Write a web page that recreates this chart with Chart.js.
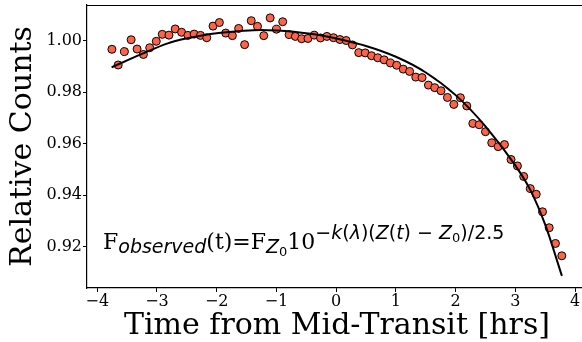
<!DOCTYPE html>
<html><head><meta charset="utf-8">
<script src="https://cdn.jsdelivr.net/npm/chart.js@4"></script>
<style>
html,body{margin:0;padding:0;background:#fff;overflow:hidden;width:582px;height:342px}
#wrap{position:absolute;left:0;top:0;width:600px;height:342px}
</style>
</head><body><div id="wrap"><canvas id="c" width="600" height="342"></canvas></div>
<script>
// ---- data ----
const timeHours = [-3.755,-3.650,-3.545,-3.433,-3.333,-3.228,-3.122,-3.012,-2.912,-2.800,
 -2.695,-2.588,-2.483,-2.378,-2.272,-2.167,-2.062,-1.955,-1.850,-1.738,
 -1.633,-1.533,-1.422,-1.317,-1.212,-1.105,-1.000,-0.895,-0.788,-0.683,
 -0.578,-0.472,-0.367,-0.262,-0.155,-0.045,0.063,0.167,0.272,0.378,
 0.487,0.592,0.697,0.803,0.908,1.013,1.123,1.230,1.333,1.438,
 1.545,1.650,1.755,1.863,1.970,2.080,2.187,2.288,2.395,2.500,
 2.605,2.712,2.818,2.928,3.035,3.140,3.250,3.350,3.455,3.567,
 3.672,3.778];
const relativeCounts = [0.9966,0.9905,0.9957,1.0003,0.9967,0.9946,0.9972,0.9997,1.0024,1.0021,
 1.0045,1.0032,1.0020,1.0025,1.0020,1.0011,1.0056,1.0070,1.0029,1.0019,
 1.0047,0.9984,1.0077,1.0055,1.0019,1.0088,1.0044,1.0073,1.0023,1.0016,
 1.0007,1.0008,1.0021,1.0010,1.0016,1.0011,1.0004,1.0000,0.9983,0.9953,
 0.9952,0.9941,0.9933,0.9925,0.9913,0.9904,0.9889,0.9880,0.9858,0.9856,
 0.9827,0.9817,0.9805,0.9779,0.9752,0.9778,0.9746,0.9678,0.9673,0.9646,
 0.9603,0.9588,0.9596,0.9538,0.9513,0.9472,0.9425,0.9403,0.9335,0.9273,
 0.9212,0.9164];
const modelTime = [-3.76,-3.27,-2.82,-2.49,-2.27,-1.93,-1.55,-1.27,-0.99,-0.71,-0.43,-0.16,
 0.0,0.5,1.0,1.5,2.0,2.5,3.0,3.25,3.5,3.78];
const modelCounts = [0.9896,0.9946,0.9989,1.0009,1.0019,1.0030,1.0038,1.0041,1.0039,1.0034,1.0026,1.0016,
 1.0008,0.9979,0.9937,0.9876,0.9788,0.9667,0.9515,0.9420,0.9285,0.9086];
const xTickValues = [-4,-3,-2,-1,0,1,2,3,4];
const yTickValues = [0.92,0.94,0.96,0.98,1.00];
const xLabel = 'Time from Mid-Transit [hrs]';
const yLabel = 'Relative Counts';

const SERIF = '"DejaVu Serif", "Liberation Serif", serif';
const SANS = '"DejaVu Sans", sans-serif';

const points = timeHours.map((t,i)=>({x:t, y:relativeCounts[i]}));
const model = modelTime.map((t,i)=>({x:t, y:modelCounts[i]}));

const framePlugin = {
  id:'frame',
  afterDraw(chart){
    const {ctx, chartArea:a} = chart;
    ctx.save();
    ctx.strokeStyle = '#000'; ctx.lineWidth = 1.2;
    ctx.beginPath(); ctx.moveTo(a.left, a.top+0.5); ctx.lineTo(a.right, a.top+0.5); ctx.stroke();
    // formula
    const M = '22px '+SERIF, S = '19px '+SANS, SI = 'italic 19px '+SANS, SS = '13px '+SANS;
    const sub = 4, sup = -10;
    const parts = [
      ['F', M, 0],
      ['observed', SI, sub],
      ['(t)=F', M, 0],
      ['Z', SI, sub],
      ['0', SS, sub+3],
      ['10', M, 0],
      ['\u2212', S, sup],
      ['k', SI, sup],
      ['(', S, sup],
      ['\u03bb', SI, sup],
      [')(', S, sup],
      ['Z', SI, sup],
      ['(', S, sup],
      ['t', SI, sup],
      [') \u2212 ', S, sup],
      ['Z', SI, sup],
      ['0', SS, sup+3],
      [')/2.5', S, sup]
    ];
    let x = 103; const base = 249;
    ctx.fillStyle = '#000'; ctx.textBaseline = 'alphabetic'; ctx.textAlign = 'left';
    for (const [t,f,dy] of parts){
      ctx.font = f; ctx.fillText(t, x, base+dy); x += ctx.measureText(t).width;
    }
    ctx.restore();
  }
};

function zeroPad(s){ s.paddingTop = 0; s.paddingBottom = 0; s.paddingLeft = 0; s.paddingRight = 0; }

new Chart(document.getElementById('c'), {
  type:'scatter',
  data:{datasets:[
    {label:'model', data:model, showLine:true, borderColor:'#000', borderWidth:2,
     pointRadius:0, cubicInterpolationMode:'monotone', fill:false, order:0},
    {label:'data', data:points, showLine:false, backgroundColor:'#FF6347', borderColor:'#000',
     borderWidth:1, pointRadius:4, pointHoverRadius:4, order:1}
  ]},
  options:{
    responsive:false, animation:false, devicePixelRatio:1,
    layout:{padding:{top:5,right:13,left:0,bottom:0}},
    plugins:{legend:{display:false}, tooltip:{enabled:false}},
    scales:{
      x:{type:'linear', min:-4.172, max:4.2,
        afterBuildTicks(s){ s.ticks = xTickValues.map(v=>({value:v})); },
        afterFit(s){ s.height = 54; zeroPad(s); },
        ticks:{color:'#000', font:{family:SERIF,size:16,lineHeight:1.2}, padding:0,
          callback:v=> (v<0?'\u2212':'')+Math.abs(v)},
        grid:{drawOnChartArea:false, tickLength:4, color:'#000', tickWidth:1},
        border:{color:'#000', width:1.2},
        title:{display:true, text:xLabel, color:'#000', font:{family:SERIF,size:30,lineHeight:1}, padding:{top:0,bottom:1}}
      },
      y:{type:'linear', min:0.9039, max:1.0138,
        afterBuildTicks(s){ s.ticks = yTickValues.map(v=>({value:v})); },
        afterFit(s){ s.width = 87; zeroPad(s); },
        ticks:{color:'#000', font:{family:SERIF,size:16,lineHeight:1.2}, padding:1,
          callback:v=>v.toFixed(2)},
        grid:{drawOnChartArea:false, tickLength:4, color:'#000', tickWidth:1},
        border:{color:'#000', width:1.2},
        title:{display:true, text:yLabel, color:'#000', font:{family:SERIF,size:30,lineHeight:1}, padding:{top:8,bottom:0}}
      }
    }
  },
  plugins:[framePlugin]
});
</script></body></html>
